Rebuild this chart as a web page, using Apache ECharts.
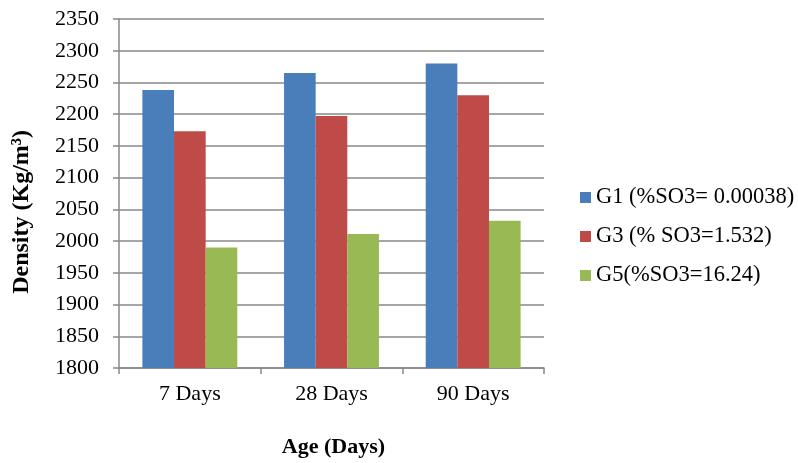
<!DOCTYPE html>
<html>
<head>
<meta charset="utf-8">
<script src="https://cdn.jsdelivr.net/npm/echarts@6/dist/echarts.min.js"></script>
<style>
  html, body { margin: 0; padding: 0; background: #fff; }
  #chart { width: 798px; height: 463px; }
</style>
</head>
<body>
<div id="chart"></div>
<script>
// Density of mixes by curing age
const categories = ['7 Days', '28 Days', '90 Days'];
const seriesNames = ['G1 (%SO3= 0.00038)', 'G3 (% SO3=1.532)', 'G5(%SO3=16.24)'];
const g1Values = [2238, 2265, 2280];
const g3Values = [2173, 2197, 2230];
const g5Values = [1990, 2011, 2032];
const yMin = 1800, yMax = 2350, yStep = 50;
const yTitle = 'Density (Kg/m³)';
const xTitle = 'Age (Days)';

const colors = ['#4a7ebb', '#be4b48', '#98b954'];
const serif = '"Liberation Serif", "Times New Roman", serif';
const gray = '#888888';

const chart = echarts.init(document.getElementById('chart'), null, { renderer: 'canvas' });

const makeBar = (name, data, color) => ({
  name, type: 'bar', data,
  barGap: '0%', barCategoryGap: '33%',
  itemStyle: { color }
});

chart.setOption({
  animation: false,
  backgroundColor: '#ffffff',
  textStyle: { fontFamily: serif, color: '#000' },
  grid: { left: 119, right: 254, top: 19, bottom: 89, containLabel: false },
  legend: {
    orient: 'vertical',
    left: 575, top: 181,
    itemWidth: 11, itemHeight: 11, itemGap: 16,
    icon: 'rect',
    textStyle: { fontFamily: serif, fontSize: 22.5, color: '#000', padding: [0, 0, 0, 0] },
    data: seriesNames
  },
  graphic: [{
    type: 'text',
    left: 10, top: 130,
    rotation: Math.PI / 2,
    style: {
      text: yTitle,
      font: 'bold 24px ' + serif,
      fill: '#000'
    }
  }],
  xAxis: {
    type: 'category',
    data: categories,
    name: xTitle,
    nameLocation: 'middle',
    nameGap: 68,
    nameTextStyle: { fontFamily: serif, fontSize: 22, fontWeight: 'bold', color: '#000', padding: [0, 0, 0, 4] },
    axisLine: { lineStyle: { color: gray, width: 1.5 } },
    axisTick: { show: true, length: 6, lineStyle: { color: gray, width: 1.5 } },
    axisLabel: { fontFamily: serif, fontSize: 22, color: '#000', margin: 15 }
  },
  yAxis: {
    type: 'value',
    min: yMin, max: yMax, interval: yStep,
    axisLine: { show: true, lineStyle: { color: gray, width: 1.5 } },
    axisTick: { show: true, length: 6, lineStyle: { color: gray, width: 1.5 } },
    axisLabel: { fontFamily: serif, fontSize: 22, color: '#000', margin: 20, formatter: v => String(v) },
    splitLine: { show: true, lineStyle: { color: gray, width: 1.5 } }
  },
  series: [
    makeBar(seriesNames[0], g1Values, colors[0]),
    makeBar(seriesNames[1], g3Values, colors[1]),
    makeBar(seriesNames[2], g5Values, colors[2])
  ]
});
</script>
</body>
</html>
